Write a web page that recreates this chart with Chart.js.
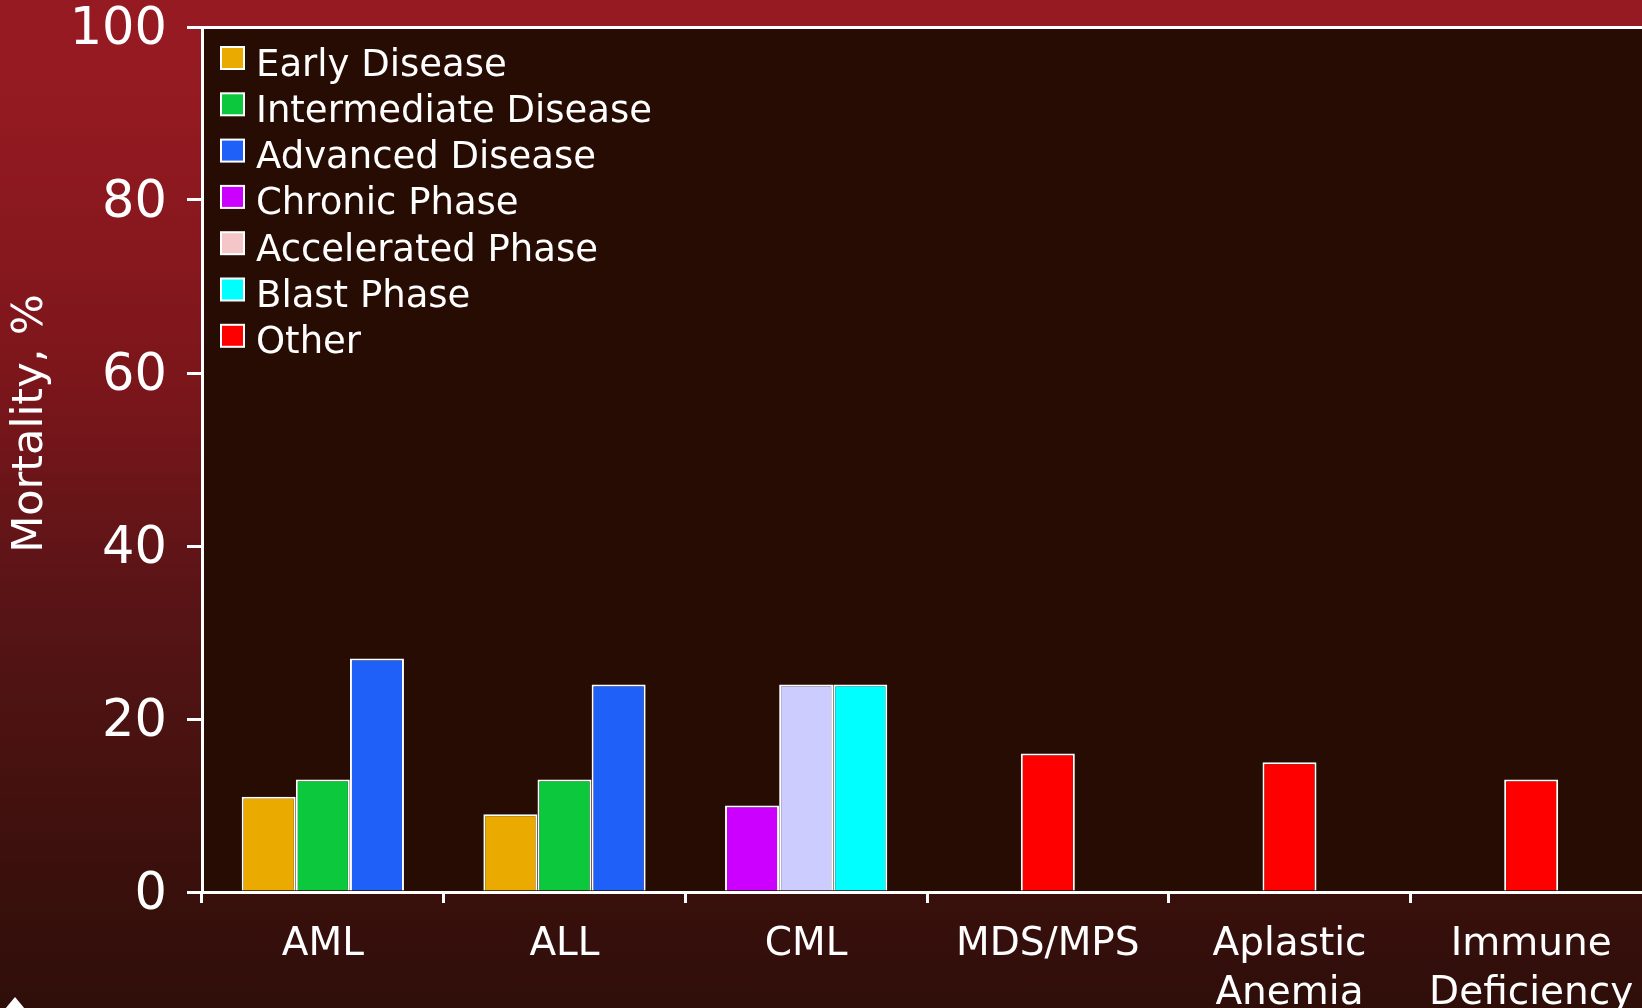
<!DOCTYPE html>
<html>
<head>
<meta charset="utf-8">
<script src="https://cdn.jsdelivr.net/npm/chart.js@4/dist/chart.umd.min.js"></script>
<style>
  html, body { margin: 0; padding: 0; width: 1642px; height: 1008px; overflow: hidden; }
  body {
    position: relative;
    background: linear-gradient(to bottom, #961a22 0%, #941a21 10%, #7b161b 38%, #581416 60%, #3b100c 86%, #2f0e0a 100%);
  }
  #wrap { position: absolute; left: 0; top: 0; width: 1652px; height: 1040px; }
  .corner {
    position: absolute; left: 5px; top: 997px; width: 0; height: 0;
    border-left: 10px solid transparent; border-right: 10px solid transparent;
    border-bottom: 12px solid #ffffff;
  }
</style>
</head>
<body>
<div id="wrap"><canvas id="chart" width="1652" height="1040"></canvas></div>
<div class="corner"></div>
<script>
// Transplant-related mortality by disease and disease stage (%)
const categories = ['AML', 'ALL', 'CML', 'MDS/MPS', ['Aplastic', 'Anemia'], ['Immune', 'Deficiency']];
const seriesNames = ['Early Disease', 'Intermediate Disease', 'Advanced Disease', 'Chronic Phase', 'Accelerated Phase', 'Blast Phase', 'Other'];

const earlyDisease        = [11, 9,  null, null, null, null];
const intermediateDisease = [13, 13, null, null, null, null];
const advancedDisease     = [27, 24, null, null, null, null];
const chronicPhase        = [null, null, 10, null, null, null];
const acceleratedPhase    = [null, null, 24, null, null, null];
const blastPhase          = [null, null, 24, null, null, null];
const otherDisease        = [null, null, null, 16, 15, 13];

const yTicks = [0, 20, 40, 60, 80, 100];
const yTitle = 'Mortality, %';

const barColors    = ['#eaaa00', '#0bc83c', '#1e60f8', '#cc00ff', '#ccccff', '#00ffff', '#ff0000'];
const swatchColors = ['#eaaa00', '#0bc83c', '#1e60f8', '#cc00ff', '#f5c6c8', '#00ffff', '#ff0000'];

const seriesValues = [earlyDisease, intermediateDisease, advancedDisease, chronicPhase, acceleratedPhase, blastPhase, otherDisease];

const FONT = 'DejaVu Sans';
Chart.defaults.font.family = FONT;
Chart.defaults.color = '#ffffff';

// Dark fill behind the plotting region
const plotBackground = {
  id: 'plotBackground',
  beforeDraw(chart) {
    const { ctx, chartArea: a } = chart;
    ctx.save();
    ctx.fillStyle = '#270c03';
    ctx.fillRect(a.left, a.top, a.right - a.left, a.bottom - a.top);
    ctx.restore();
  }
};

// Vertical axis title, set slightly above the middle of the axis
const axisTitle = {
  id: 'axisTitle',
  afterDraw(chart) {
    const { ctx, chartArea: a } = chart;
    ctx.save();
    ctx.translate(a.left - 171, (a.top + a.bottom) / 2 - 36);
    ctx.rotate(-Math.PI / 2);
    ctx.font = '43px "' + FONT + '"';
    ctx.fillStyle = '#ffffff';
    ctx.textAlign = 'center';
    ctx.textBaseline = 'middle';
    ctx.fillText(yTitle, 0, 0);
    ctx.restore();
  }
};

// Legend list in the upper-left corner of the plot
const cornerLegend = {
  id: 'cornerLegend',
  afterDraw(chart) {
    const { ctx, chartArea: a } = chart;
    const rowGap = 46.3;
    ctx.save();
    ctx.font = '37px "' + FONT + '"';
    ctx.textAlign = 'left';
    ctx.textBaseline = 'alphabetic';
    chart.data.datasets.forEach((ds, i) => {
      const top = a.top + 20 + i * rowGap;
      const left = a.left + 19;
      ctx.fillStyle = swatchColors[i];
      ctx.fillRect(left, top, 23, 22);
      ctx.strokeStyle = '#ffffff';
      ctx.lineWidth = 2;
      ctx.strokeRect(left, top, 23, 22);
      ctx.fillStyle = '#ffffff';
      ctx.fillText(ds.label, a.left + 54, top + 28.5);
    });
    ctx.restore();
  }
};

new Chart(document.getElementById('chart'), {
  type: 'bar',
  data: {
    labels: categories,
    datasets: seriesNames.map((name, i) => ({
      label: name,
      data: seriesValues[i],
      backgroundColor: barColors[i],
      borderColor: '#ffffff',
      borderWidth: 2,
      skipNull: true,
      categoryPercentage: 0.672,
      barPercentage: 1,
      maxBarThickness: 54
    }))
  },
  options: {
    responsive: false,
    animation: false,
    layout: { padding: { top: 27, left: 0, right: 0, bottom: 0 } },
    plugins: {
      legend: { display: false },
      tooltip: { enabled: false },
      title: { display: false }
    },
    scales: {
      x: {
        type: 'category',
        offset: true,
        afterFit(scale) {
          scale.height = 148;
          scale.paddingLeft = 0;
          scale.paddingRight = 0;
        },
        grid: {
          offset: true,
          drawOnChartArea: false,
          drawTicks: true,
          tickLength: 11,
          tickWidth: 3,
          tickColor: '#ffffff',
          color: '#ffffff'
        },
        border: { display: true, color: '#ffffff', width: 3 },
        ticks: {
          color: '#ffffff',
          font: { family: FONT, size: 39, lineHeight: 1.24 },
          padding: 18,
          maxRotation: 0,
          autoSkip: false
        }
      },
      y: {
        min: 0,
        max: 100,
        afterFit(scale) {
          scale.width = 202;
          scale.paddingTop = 0;
          scale.paddingBottom = 0;
        },
        afterBuildTicks(scale) { scale.ticks = yTicks.map(v => ({ value: v })); },
        grid: {
          drawOnChartArea: true,
          color: (c) => (c.tick && c.tick.value === 100 ? '#ffffff' : 'rgba(0,0,0,0)'),
          lineWidth: 3,
          tickColor: '#ffffff',
          tickWidth: 3,
          tickLength: 15
        },
        border: { display: true, color: '#ffffff', width: 3 },
        ticks: {
          color: '#ffffff',
          font: { family: FONT, size: 51 },
          padding: 20,
          labelOffset: 4
        }
      }
    }
  },
  plugins: [plotBackground, axisTitle, cornerLegend]
});
</script>
</body>
</html>
